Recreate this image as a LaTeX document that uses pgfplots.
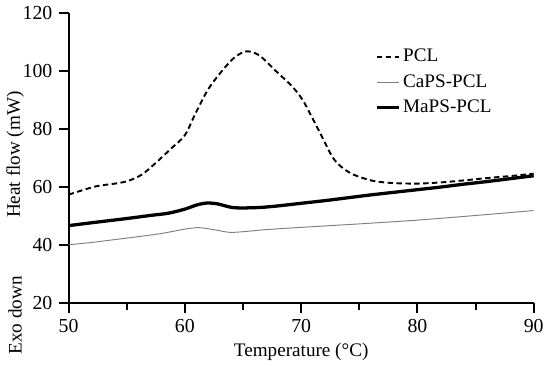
\documentclass[border=0pt]{standalone}
\usepackage{fontspec}
\setmainfont{Liberation Serif}
\usepackage{pgfplots}
\pgfplotsset{compat=1.18}
\begin{document}
\fontsize{14}{16}\selectfont
\begin{tikzpicture}
\begin{axis}[
  scale only axis, width=340pt, height=212pt,
  xmin=50, xmax=90, ymin=20, ymax=120,
  axis x line=bottom, axis y line=left,
  axis line style={-, line width=1.6pt},
  xtick={50,60,...,90}, minor xtick={55,65,75,85},
  ytick={20,40,...,120},
  tick align=outside, major tick length=7pt, minor tick length=5pt,
  every tick/.style={black, line width=1.4pt},
  xlabel={Temperature (°C)},
  xlabel style={yshift=2pt},
  /pgf/number format/assume math mode=true,
  tick label style={font=\fontsize{14.5}{16}\selectfont},
  label style={font=\fontsize{14}{16}\selectfont},
  legend style={draw=none, fill=none, at={(0.65,0.895)}, anchor=north west,
    font=\fontsize{14}{16}\selectfont, row sep=3pt},
  legend cell align=left,
  legend image code/.code={\draw[#1] (0pt,0pt) -- (16pt,0pt);},
  clip=false,
]
\addplot[black, line width=1.4pt, dash pattern=on 4pt off 2.5pt, smooth] coordinates {
(50,57.4) (52.3,60.2) (54,61.2) (55.1,62.1) (56.3,64.3) (57.4,68.0) (58.9,73.6) (60,77.9)
(60.9,85.3) (62,93.7) (63.2,100.1) (64.3,104.8) (65.3,106.8) (66.4,105.4) (67.8,100.1)
(69.2,94.8) (70.1,90.2) (70.9,84.3) (71.8,77.3) (72.7,70.3) (73.5,66.8) (74.5,64.3)
(76.1,62.2) (77.8,61.4) (80,61.2) (82,61.6) (84,62.3) (86,63.1) (88,63.8) (90,64.6)};
\addlegendentry{PCL}
\addplot[gray, line width=0.7pt, smooth] coordinates {
(50,40.1) (52,40.9) (54,41.9) (56,42.9) (58,44.0) (60,45.5) (61.2,46.0) (62.5,45.3)
(63.8,44.4) (65,44.6) (66.6,45.2) (68,45.6) (70,46.1) (75,47.3) (80,48.6) (85,50.2) (90,51.9)};
\addlegendentry{CaPS-PCL}
\addplot[black, line width=2.4pt, smooth] coordinates {
(50,46.7) (52,47.7) (55.1,49.2) (57,50.2) (58.6,51.0) (60,52.4) (61,53.8) (61.9,54.5)
(62.8,54.2) (64,53.0) (65,52.8) (66.6,53.0) (68,53.5) (70,54.4) (72,55.3) (74,56.3)
(76,57.3) (78,58.2) (80,59.1) (82,60.0) (84,61.0) (86,61.9) (88,62.9) (90,63.9)};
\addlegendentry{MaPS-PCL}
\node[rotate=90] at (axis description cs:-0.115,0.512) {Heat flow (mW)};
\node[rotate=90] at (axis description cs:-0.115,-0.042) {Exo down};
\end{axis}
\end{tikzpicture}
\end{document}
